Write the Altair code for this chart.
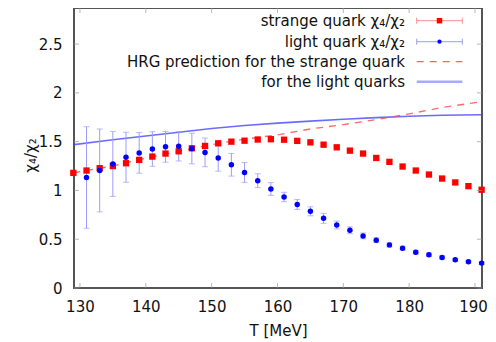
import altair as alt
import pandas as pd

# ---------------- data ----------------
T_strange = [129, 131, 133, 135, 137, 139, 141, 143, 145, 147, 149, 151, 153, 155, 157, 159,
             161, 163, 165, 167, 169, 171, 173, 175, 177, 179, 181, 183, 185, 187, 189, 191]
strange = [1.18, 1.204, 1.228, 1.25, 1.279, 1.313, 1.347, 1.378, 1.401, 1.432, 1.456, 1.483,
           1.5, 1.51, 1.522, 1.525, 1.52, 1.508, 1.493, 1.469, 1.442, 1.408, 1.378, 1.333,
           1.293, 1.245, 1.204, 1.163, 1.122, 1.082, 1.044, 1.007]
strange_err = [0.012, 0.012, 0.012, 0.012, 0.012, 0.012, 0.012, 0.012, 0.012, 0.012, 0.012,
               0.012, 0.012, 0.012, 0.012, 0.012, 0.014, 0.014, 0.014, 0.014, 0.014, 0.014,
               0.014, 0.014, 0.014, 0.014, 0.014, 0.014, 0.014, 0.014, 0.014, 0.014]

T_light = [131, 133, 135, 137, 139, 141, 143, 145, 147, 149, 151, 153, 155, 157, 159,
           161, 163, 165, 167, 169, 171, 173, 175, 177, 179, 181, 183, 185, 187, 189, 191]
light = [1.133, 1.205, 1.272, 1.34, 1.385, 1.425, 1.447, 1.452, 1.43, 1.39, 1.333, 1.263,
         1.184, 1.1, 1.015, 0.933, 0.857, 0.786, 0.714, 0.646, 0.592, 0.534, 0.49, 0.442,
         0.408, 0.367, 0.34, 0.313, 0.289, 0.268, 0.255]
light_err = [0.52, 0.425, 0.333, 0.256, 0.208, 0.177, 0.158, 0.15, 0.157, 0.147, 0.136, 0.116,
             0.102, 0.071, 0.065, 0.048, 0.051, 0.046, 0.051, 0.04, 0.035, 0.03, 0.025, 0.022,
             0.02, 0.02, 0.018, 0.016, 0.015, 0.015, 0.015]

T_hrg = [129, 135, 140, 145, 150, 155, 160, 165, 170, 175, 180, 185, 191]
hrg_strange = [1.18, 1.25, 1.33, 1.40, 1.47, 1.525, 1.57, 1.63, 1.675, 1.725, 1.785, 1.85, 1.91]
hrg_light = [1.469, 1.52, 1.558, 1.597, 1.635, 1.665, 1.69, 1.71, 1.73, 1.746, 1.76, 1.77, 1.776]

x_ticks = [130, 140, 150, 160, 170, 180, 190]
y_ticks = [0, 0.5, 1, 1.5, 2, 2.5]

legend_labels = ["strange quark χ₄/χ₂", "light quark χ₄/χ₂",
                 "HRG prediction for the strange quark", "for the light quarks"]

# ---------------- tables ----------------
df_s = pd.DataFrame({"T": T_strange, "v": strange, "e": strange_err})
df_s["lo"] = df_s["v"] - df_s["e"]
df_s["hi"] = df_s["v"] + df_s["e"]
df_l = pd.DataFrame({"T": T_light, "v": light, "e": light_err})
df_l["lo"] = df_l["v"] - df_l["e"]
df_l["hi"] = df_l["v"] + df_l["e"]
df_hs = pd.DataFrame({"T": T_hrg, "v": hrg_strange})
df_hl = pd.DataFrame({"T": T_hrg, "v": hrg_light})
df_xt = pd.DataFrame({"T": x_ticks})
df_yt = pd.DataFrame({"v": y_ticks})
one = pd.DataFrame({"a": [0]})

FONT = "DejaVu Sans"
W, H = 408, 280
xscale = alt.Scale(domain=[129.1, 191.06], nice=False, zero=False)
yscale = alt.Scale(domain=[0, 2.87], nice=False, zero=False)
xaxis = alt.Axis(values=x_ticks, title="T [MeV]", grid=False, domain=False, tickSize=0,
                 labelPadding=11, labelFontSize=15, labelFont=FONT, labelColor="#111",
                 labelOffset={"condition": {"test": "datum.value == 190", "value": -2}, "value": 0},
                 titleFont=FONT, titleFontSize=15, titleFontWeight="normal", titleColor="#111",
                 titleY=42, titleBaseline="middle")
yaxis = alt.Axis(values=y_ticks, title="χ₄/χ₂", grid=False, domain=False, tickSize=0,
                 labelPadding=12, labelFontSize=15, labelFont=FONT, labelColor="#111",
                 labelExpr="datum.value == 0 ? '0' : format(datum.value, '.2~f')",
                 titleFont=FONT, titleFontSize=15, titleFontWeight="normal", titleColor="#111",
                 titleX=-44, titleY=147, titleBaseline="middle", titleAngle=270)
X = alt.X("T:Q", scale=xscale, axis=xaxis)
Y = alt.Y("v:Q", scale=yscale, axis=yaxis)

RED = "#ff0000"
BLUE = "#0000ff"
EB_BLUE = "#9c9cff"
EB_RED = "#ff8c8c"

# HRG lines
hrg_l = alt.Chart(df_hl).mark_line(color="#3a3aff", strokeWidth=1.6, opacity=0.75, clip=True).encode(x=X, y=Y)
hrg_s = alt.Chart(df_hs).mark_line(color="#ff5050", strokeWidth=1.3, strokeDash=[7, 6], opacity=0.85, clip=True).encode(x=X, y=Y)

# light error bars
l_bar = alt.Chart(df_l).mark_rule(color=EB_BLUE, strokeWidth=1).encode(x=X, y=alt.Y("lo:Q", scale=yscale), y2="hi:Q")
l_cap_lo = alt.Chart(df_l).mark_tick(color=EB_BLUE, orient="horizontal", size=6, thickness=1).encode(x=X, y=alt.Y("lo:Q", scale=yscale))
l_cap_hi = alt.Chart(df_l).mark_tick(color=EB_BLUE, orient="horizontal", size=6, thickness=1).encode(x=X, y=alt.Y("hi:Q", scale=yscale))
l_pts = alt.Chart(df_l).mark_point(shape="circle", filled=True, color=BLUE, size=30, opacity=1).encode(x=X, y=Y)

# strange error bars and points
s_bar = alt.Chart(df_s).mark_rule(color=EB_RED, strokeWidth=1).encode(x=X, y=alt.Y("lo:Q", scale=yscale), y2="hi:Q")
s_pts = alt.Chart(df_s).mark_point(shape="square", filled=True, color=RED, size=40, opacity=1).encode(x=X, y=Y)

# inward frame ticks
TK = "#999999"
xt_bot = alt.Chart(df_xt).mark_tick(color=TK, orient="vertical", size=5, thickness=1).encode(x=X, y=alt.value(H - 2.5))
xt_top = alt.Chart(df_xt).mark_tick(color=TK, orient="vertical", size=5, thickness=1).encode(x=X, y=alt.value(2.5))
yt_left = alt.Chart(df_yt).mark_tick(color=TK, orient="horizontal", size=5, thickness=1).encode(y=Y, x=alt.value(2.5))
yt_right = alt.Chart(df_yt).mark_tick(color=TK, orient="horizontal", size=5, thickness=1).encode(y=Y, x=alt.value(W - 2.5))

# legend (drawn manually, gnuplot style)
rows = [12.7, 33.7, 53.7, 73.7]
tx = 331
sx1, sx2, sc = 342.7, 388.3, 365.5
leg = []
for i, lab in enumerate(legend_labels):
    leg.append(alt.Chart(one).mark_text(align="right", baseline="middle", font=FONT, fontSize=15, color="#111")
               .encode(x=alt.value(tx), y=alt.value(rows[i]), text=alt.value(lab)))
# row 1: strange
leg.append(alt.Chart(one).mark_rule(color=EB_RED, strokeWidth=1).encode(x=alt.value(sx1), x2=alt.value(sx2), y=alt.value(rows[0])))
for xx in (sx1, sx2):
    leg.append(alt.Chart(one).mark_rule(color=EB_RED, strokeWidth=1).encode(x=alt.value(xx), y=alt.value(rows[0] - 3), y2=alt.value(rows[0] + 3)))
leg.append(alt.Chart(one).mark_point(shape="square", filled=True, color=RED, size=30, opacity=1).encode(x=alt.value(sc), y=alt.value(rows[0])))
# row 2: light
leg.append(alt.Chart(one).mark_rule(color=EB_BLUE, strokeWidth=1).encode(x=alt.value(sx1), x2=alt.value(sx2), y=alt.value(rows[1])))
for xx in (sx1, sx2):
    leg.append(alt.Chart(one).mark_rule(color=EB_BLUE, strokeWidth=1).encode(x=alt.value(xx), y=alt.value(rows[1] - 3), y2=alt.value(rows[1] + 3)))
leg.append(alt.Chart(one).mark_point(shape="circle", filled=True, color=BLUE, size=18, opacity=1).encode(x=alt.value(sc), y=alt.value(rows[1])))
# row 3: HRG strange
leg.append(alt.Chart(one).mark_rule(color="#ff6060", strokeWidth=1.3, strokeDash=[7, 6]).encode(x=alt.value(sx1), x2=alt.value(sx2), y=alt.value(rows[2])))
# row 4: HRG light
leg.append(alt.Chart(one).mark_rule(color="#a8a8ff", strokeWidth=2.5).encode(x=alt.value(sx1), x2=alt.value(sx2), y=alt.value(rows[3])))

chart = alt.layer(
    hrg_l, hrg_s, l_bar, l_cap_lo, l_cap_hi, s_bar, s_pts, l_pts,
    xt_bot, xt_top, yt_left, yt_right, *leg
).properties(
    width=W, height=H,
    autosize=alt.AutoSizeParams(type="none"),
    padding={"left": 66, "top": 0, "right": 6, "bottom": 53},
    background="white",
).configure_view(
    stroke="#555555", strokeWidth=2
)

chart.save("out.html", embed_options={"renderer": "svg", "actions": False})
